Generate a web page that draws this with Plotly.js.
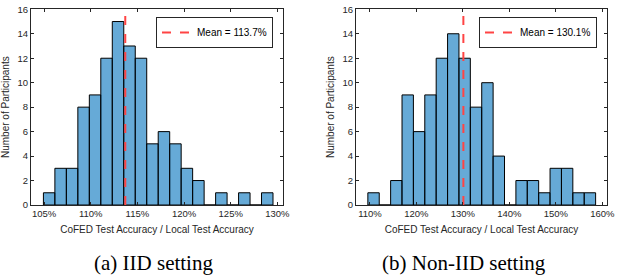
<!DOCTYPE html>
<html>
<head>
<meta charset="utf-8">
<script src="https://cdn.plot.ly/plotly-3.0.1.min.js"></script>
<style>html,body{margin:0;padding:0;background:#fff;}#chart{width:618px;height:277px;}</style>
</head>
<body>
<div id="chart"></div>
<script>
// ---- data ----
const iidCounts = [1,3,3,8,9,12,15,13,12,5,6,5,3,2,0,1,0,1,0,1];
const iidBinStart = 104.93;
const iidBinWidth = 1.23;
const iidMean = 113.7;
const iidTicks = [105,110,115,120,125,130];
const iidTickText = ['105%','110%','115%','120%','125%','130%'];

const nonIidCounts = [1,0,2,9,6,9,12,14,12,8,10,4,0,2,2,1,3,3,1,1];
const nonIidBinStart = 109.55;
const nonIidBinWidth = 2.45;
const nonIidMean = 130.1;
const nonIidTicks = [110,120,130,140,150,160];
const nonIidTickText = ['110%','120%','130%','140%','150%','160%'];

const yTicks = [0,2,4,6,8,10,12,14,16];
const captions = ['(a) IID setting', '(b) Non-IID setting'];
const xTitle = 'CoFED Test Accuracy / Local Test Accuracy';
const yTitle = 'Number of Participants';

function centers(start, w, n) {
  const c = [];
  for (let i = 0; i < n; i++) c.push(start + w * (i + 0.5));
  return c;
}

const barColor = 'rgba(0,114,189,0.6)';
const txt = '#262626';
const font = {family: 'Liberation Sans, Arial, sans-serif', size: 9.5, color: txt};
const titleFont = {family: font.family, size: 10, color: txt};

const traces = [
  {type: 'bar', x: centers(iidBinStart, iidBinWidth, iidCounts.length), y: iidCounts,
   width: iidBinWidth, marker: {color: barColor, line: {color: '#000', width: 1}},
   xaxis: 'x', yaxis: 'y', showlegend: false, hoverinfo: 'skip'},
  {type: 'scatter', mode: 'lines', x: [iidMean, iidMean], y: [0, 16],
   line: {color: '#FF4444', width: 2, dash: 'dash'}, name: 'Mean = ' + iidMean.toFixed(1) + '%',
   xaxis: 'x', yaxis: 'y', legend: 'legend'},
  {type: 'bar', x: centers(nonIidBinStart, nonIidBinWidth, nonIidCounts.length), y: nonIidCounts,
   width: nonIidBinWidth, marker: {color: barColor, line: {color: '#000', width: 1}},
   xaxis: 'x2', yaxis: 'y2', showlegend: false, hoverinfo: 'skip'},
  {type: 'scatter', mode: 'lines', x: [nonIidMean, nonIidMean], y: [0, 16],
   line: {color: '#FF4444', width: 2, dash: 'dash'}, name: 'Mean = ' + nonIidMean.toFixed(1) + '%',
   xaxis: 'x2', yaxis: 'y2', legend: 'legend2'}
];

const W = 618, H = 277;
const axCommon = {
  showline: true, linecolor: txt, linewidth: 1, mirror: 'ticks',
  ticks: 'inside', ticklen: 3, tickcolor: txt, tickwidth: 1,
  showgrid: false, zeroline: false, tickfont: font, fixedrange: true
};
const yDomain = [(H - 205) / H, (H - 9.3) / H];

const layout = {
  width: W, height: H,
  margin: {l: 0, r: 0, t: 0, b: 0},
  paper_bgcolor: '#fff', plot_bgcolor: '#fff',
  font: font,
  bargap: 0,
  xaxis: Object.assign({}, axCommon, {
    domain: [31 / W, 283 / W], range: [103.6, 130.6],
    tickvals: iidTicks, ticktext: iidTickText, anchor: 'y',
    title: {text: xTitle, font: titleFont, standoff: 7}
  }),
  yaxis: Object.assign({}, axCommon, {
    domain: yDomain, range: [0, 16], tickvals: yTicks, anchor: 'x',
    title: {text: yTitle, font: titleFont, standoff: 6}
  }),
  xaxis2: Object.assign({}, axCommon, {
    domain: [356 / W, 607 / W], range: [107.0, 161.0],
    tickvals: nonIidTicks, ticktext: nonIidTickText, anchor: 'y2',
    title: {text: xTitle, font: titleFont, standoff: 7}
  }),
  yaxis2: Object.assign({}, axCommon, {
    domain: yDomain, range: [0, 16], tickvals: yTicks, anchor: 'x2',
    title: {text: yTitle, font: titleFont, standoff: 6}
  }),
  legend: {
    x: 273 / W, xanchor: 'right', y: (H - 17) / H, yanchor: 'top',
    bgcolor: '#fff', bordercolor: txt, borderwidth: 1,
    font: {family: font.family, size: 10, color: '#000'},
    tracegroupgap: 0, itemwidth: 30
  },
  legend2: {
    x: 597 / W, xanchor: 'right', y: (H - 17) / H, yanchor: 'top',
    bgcolor: '#fff', bordercolor: txt, borderwidth: 1,
    font: {family: font.family, size: 10, color: '#000'},
    tracegroupgap: 0, itemwidth: 30
  },
  annotations: [
    {text: captions[0], x: 153 / W, y: (H - 263) / H, xref: 'paper', yref: 'paper',
     showarrow: false, xanchor: 'center', yanchor: 'middle',
     font: {family: 'Liberation Serif, Times New Roman, serif', size: 21, color: '#000'}},
    {text: captions[1], x: 464 / W, y: (H - 263) / H, xref: 'paper', yref: 'paper',
     showarrow: false, xanchor: 'center', yanchor: 'middle',
     font: {family: 'Liberation Serif, Times New Roman, serif', size: 21, color: '#000'}}
  ]
};

Plotly.newPlot('chart', traces, layout, {staticPlot: true, displayModeBar: false});
</script>
</body>
</html>
